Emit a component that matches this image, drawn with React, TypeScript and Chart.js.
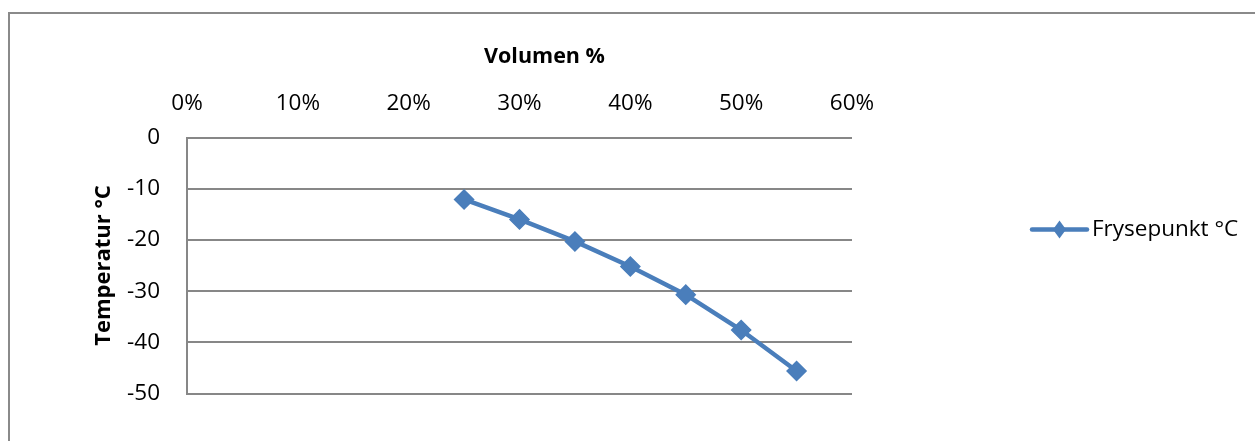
import { useEffect, useRef } from "react";
import { Chart, registerables } from "chart.js";

Chart.register(...registerables);

const volumePercent = [25, 30, 35, 40, 45, 50, 55];
const freezingPoint = [-12.1, -16.0, -20.3, -25.2, -30.7, -37.6, -45.6];
const seriesLabel = "Frysepunkt °C";
const xAxisTitle = "Volumen %";
const yAxisTitle = "Temperatur °C";
const xTickValues = [0, 10, 20, 30, 40, 50, 60];
const yTickValues = [0, -10, -20, -30, -40, -50];

const SERIES_COLOR = "#4A7EBB";
const GRID_COLOR = "#878787";
const FONT = "'Open Sans'";

// Draws the x-axis title (offset right of centre, as in the original) and the side legend.
const sideDecorations = {
  id: "sideDecorations",
  afterDraw(chart: any) {
    const ctx: CanvasRenderingContext2D = chart.ctx;
    const area = chart.chartArea;
    const ds = chart.data.datasets[0];
    ctx.save();

    // x-axis title
    ctx.fillStyle = "#000";
    ctx.font = `bold 21.5px ${FONT}`;
    ctx.textAlign = "center";
    ctx.textBaseline = "middle";
    ctx.fillText(xAxisTitle, (area.left + area.right) / 2 + 25, area.top - 81);

    // legend
    const x0 = area.right + 180;
    const y = area.top + 92;
    ctx.strokeStyle = ds.borderColor;
    ctx.lineWidth = 4.5;
    ctx.lineCap = "round";
    ctx.beginPath();
    ctx.moveTo(x0, y);
    ctx.lineTo(x0 + 55, y);
    ctx.stroke();
    const cx = x0 + 27.5;
    ctx.fillStyle = ds.borderColor;
    ctx.beginPath();
    ctx.moveTo(cx, y - 9);
    ctx.lineTo(cx + 6.5, y);
    ctx.lineTo(cx, y + 9);
    ctx.lineTo(cx - 6.5, y);
    ctx.closePath();
    ctx.fill();
    ctx.fillStyle = "#000";
    ctx.font = `22.5px ${FONT}`;
    ctx.textAlign = "left";
    ctx.fillText(ds.label, x0 + 60, y);
    ctx.restore();
  },
};

export default function App() {
  const ref = useRef<HTMLCanvasElement | null>(null);

  useEffect(() => {
    if (!ref.current) return;
    Chart.defaults.font.family = FONT;
    Chart.defaults.color = "#000";
    const chart = new Chart(ref.current, {
      type: "line",
      data: {
        datasets: [
          {
            label: seriesLabel,
            data: volumePercent.map((v, i) => ({ x: v, y: freezingPoint[i] })),
            borderColor: SERIES_COLOR,
            backgroundColor: SERIES_COLOR,
            borderWidth: 4.5,
            tension: 0,
            pointStyle: "rectRot",
            pointRadius: 9.5,
            pointBorderWidth: 1.5,
            pointBackgroundColor: SERIES_COLOR,
            pointBorderColor: SERIES_COLOR,
          },
        ],
      },
      plugins: [sideDecorations],
      options: {
        animation: false,
        responsive: false,
        maintainAspectRatio: false,
        layout: { padding: { left: 0, top: 0, right: 403, bottom: 47.5 } },
        plugins: {
          legend: { display: false },
          tooltip: { enabled: false },
        },
        scales: {
          x: {
            type: "linear",
            position: "top",
            min: xTickValues[0],
            max: xTickValues[xTickValues.length - 1],
            afterBuildTicks: (s: any) => {
              s.ticks = xTickValues.map((v) => ({ value: v }));
            },
            afterFit: (s: any) => {
              s.height = 137.5;
            },
            ticks: {
              padding: 20,
              font: { size: 22.5 },
              callback: (v: any) => `${v}%`,
            },
            grid: { display: false, drawTicks: false },
            border: { display: false },
            title: { display: false },
          },
          y: {
            type: "linear",
            min: yTickValues[yTickValues.length - 1],
            max: yTickValues[0],
            afterBuildTicks: (s: any) => {
              s.ticks = yTickValues.map((v) => ({ value: v }));
            },
            afterFit: (s: any) => {
              s.width = 187;
            },
            ticks: {
              padding: 27,
              font: { size: 22.5 },
            },
            grid: {
              color: GRID_COLOR,
              lineWidth: 2,
              drawTicks: false,
            },
            border: { display: true, color: GRID_COLOR, width: 2 },
            title: {
              display: true,
              text: yAxisTitle,
              font: { size: 22, weight: "bold" },
              padding: { top: 90.5, bottom: 0 },
            },
          },
        },
      },
    });
    return () => chart.destroy();
  }, []);

  return (
    <div
      style={{
        position: "fixed",
        left: 0,
        top: 0,
        width: 1255,
        height: 441,
        overflow: "hidden",
        background: "#fff",
      }}
    >
      <div
        style={{
          position: "absolute",
          left: 8,
          top: 12,
          width: 2000,
          height: 1000,
          border: "2px solid #8a8a8a",
        }}
      />
      <canvas
        ref={ref}
        width={1255}
        height={441}
        style={{ position: "absolute", left: 0, top: 0, width: 1255, height: 441 }}
      />
    </div>
  );
}
